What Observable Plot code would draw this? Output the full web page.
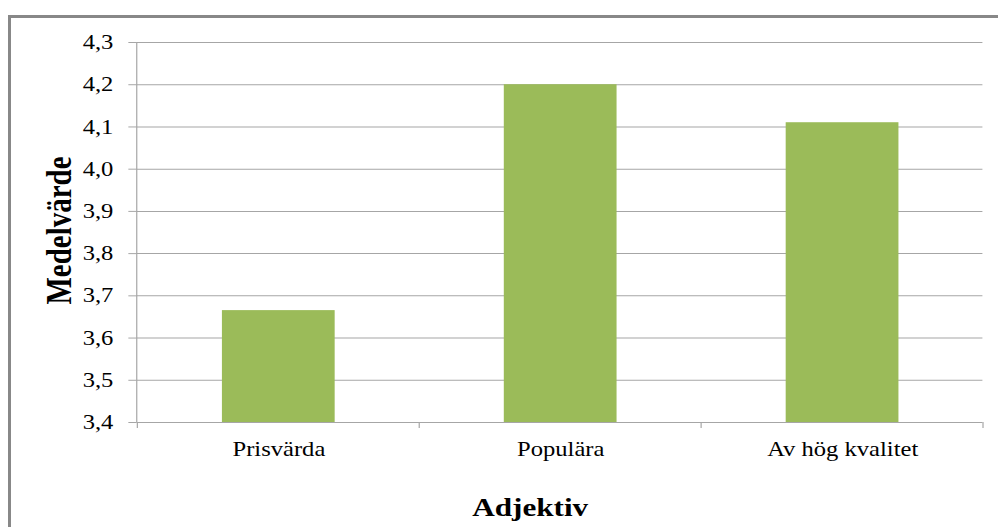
<!DOCTYPE html>
<html>
<head>
<meta charset="utf-8">
<script src="https://cdn.jsdelivr.net/npm/d3@7"></script>
<script src="https://cdn.jsdelivr.net/npm/@observablehq/plot@0.6"></script>
<style>
  html, body { margin: 0; padding: 0; background: #fff; }
  #wrap { position: relative; width: 998px; height: 527px; overflow: hidden; background: #fff; }
  #border { position: absolute; left: 8px; top: 15px; width: 1200px; height: 800px; border: 3px solid #888; box-sizing: border-box; }
  #chart { position: absolute; left: 0; top: 0; }
</style>
</head>
<body>
<div id="wrap"><div id="border"></div><div id="chart"></div></div>
<script>
// Mean rating per adjective
const categories = ["Prisvärda", "Populära", "Av hög kvalitet"];
const means = [3.665, 4.2, 4.11];

// Value axis ticks and their Swedish-formatted labels
const yTicks = [3.4, 3.5, 3.6, 3.7, 3.8, 3.9, 4.0, 4.1, 4.2, 4.3];
const yTickLabels = ["3,4", "3,5", "3,6", "3,7", "3,8", "3,9", "4,0", "4,1", "4,2", "4,3"];

const data = categories.map((category, i) => ({category, mean: means[i]}));

// The chart is laid out in a narrower coordinate space and stretched to full width,
// which widens the serif glyphs the way the spreadsheet export does.
const innerWidth = 832;
const outerWidth = 998;
const outerHeight = 527;
const lineColor = "#a6a6a6";

const labelFor = (d) => yTickLabels[yTicks.findIndex((t) => Math.abs(t - d) < 1e-9)];

// Y axis line plus tick marks at the category band boundaries
function axisFrame(index, scales, values, dims) {
  const {x, y} = scales;
  const g = d3.create("svg:g").attr("stroke", lineColor).attr("fill", "none");
  const left = dims.marginLeft;
  const bottom = dims.height - dims.marginBottom;
  g.append("line")
    .attr("x1", left).attr("x2", left)
    .attr("y1", y(yTicks[yTicks.length - 1])).attr("y2", y(yTicks[0]));
  const step = typeof x.step === "function" ? x.step() : x.step;
  const bw = typeof x.bandwidth === "function" ? x.bandwidth() : x.bandwidth;
  const edges = categories.map((c) => x(c) - (step - bw) / 2);
  edges.push(edges[edges.length - 1] + step);
  for (const e of edges) {
    g.append("line").attr("x1", e).attr("x2", e).attr("y1", bottom).attr("y2", bottom + 6);
  }
  return g.node();
}

const chart = Plot.plot({
  width: innerWidth,
  height: outerHeight,
  marginLeft: 114,
  marginRight: 13,
  marginTop: 42,
  marginBottom: 105,
  style: {
    fontFamily: "'Liberation Serif', 'Times New Roman', serif",
    fontSize: "20.5px",
    color: "#000",
    background: "transparent",
    overflow: "visible"
  },
  x: {domain: categories, paddingInner: 0.6, paddingOuter: 0.3, axis: null},
  y: {domain: [yTicks[0], yTicks[yTicks.length - 1]], axis: null},
  marks: [
    Plot.ruleY(yTicks, {stroke: lineColor, strokeWidth: 1}),
    Plot.barY(data, {x: "category", y1: yTicks[0], y2: "mean", fill: "#9bbb59"}),
    Plot.axisY({
      ticks: yTicks,
      tickFormat: labelFor,
      tickSize: 7,
      tickPadding: 13,
      stroke: lineColor,
      fill: "#000",
      label: null
    }),
    Plot.axisX({tickSize: 0, tickPadding: 19, fill: "#000", label: null}),
    axisFrame,
    Plot.text(["Medelvärde"], {
      frameAnchor: "left",
      textAnchor: "middle",
      lineAnchor: "middle",
      rotate: -90,
      dx: -65,
      dy: -2,
      fontWeight: "bold",
      fontSize: 29,
      fill: "#000"
    }),
    Plot.text(["Adjektiv"], {
      frameAnchor: "bottom",
      textAnchor: "middle",
      lineAnchor: "bottom",
      dx: -25,
      dy: 93,
      fontWeight: "bold",
      fontSize: 26,
      fill: "#000"
    })
  ]
});

chart.setAttribute("width", outerWidth);
chart.setAttribute("height", outerHeight);
chart.setAttribute("preserveAspectRatio", "none");
chart.style.width = outerWidth + "px";
chart.style.height = outerHeight + "px";
chart.style.maxWidth = "none";
document.getElementById("chart").appendChild(chart);
</script>
</body>
</html>
